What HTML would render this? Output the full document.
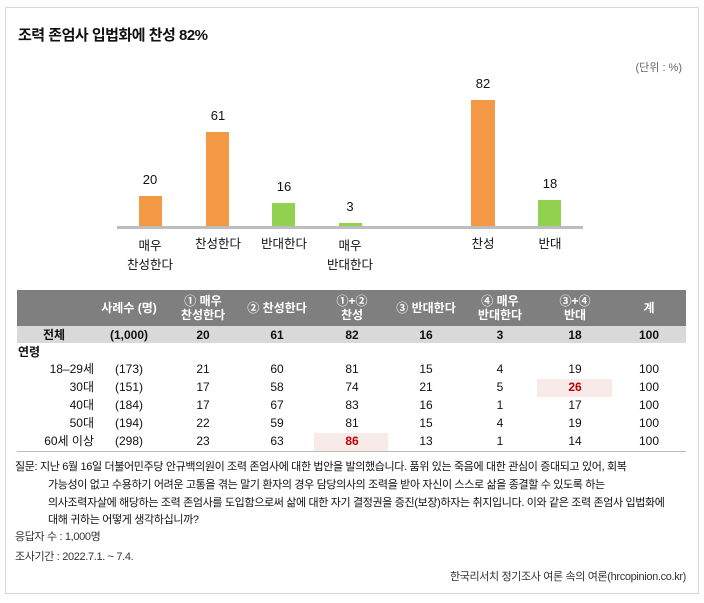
<!DOCTYPE html>
<html><head><meta charset="utf-8"><style>
body{margin:0;width:704px;height:603px;background:#fff;position:relative;font-family:"Liberation Sans","Noto Sans CJK KR",sans-serif;color:#111;overflow:hidden}
.a{position:absolute;white-space:nowrap}
.c{transform:translateX(-50%);text-align:center}
.bar{position:absolute}
.o{background:#f59846}.g{background:#92d050}
.t{font-size:12.5px;line-height:14px}
</style></head><body>
<div class="a" style="left:5px;top:7px;width:692px;height:585px;border:1px solid #d8d8d8"></div>
<div class="a" style="left:18px;top:24px;font-size:15px;font-weight:bold;letter-spacing:-0.5px">조력 존엄사 입법화에 찬성 82%</div>
<div class="a" style="right:22px;top:59px;font-size:11px;color:#666">(단위 : %)</div>

<div class="bar" style="left:117px;top:226px;width:466px;height:3px;background:#bdbdbd"></div>
<div class="bar o" style="left:139px;top:196px;width:23px;height:30px"></div>
<div class="bar o" style="left:206px;top:132px;width:23px;height:94px"></div>
<div class="bar g" style="left:272px;top:203px;width:23px;height:23px"></div>
<div class="bar g" style="left:339px;top:223px;width:23px;height:3px"></div>
<div class="bar o" style="left:471px;top:100px;width:24px;height:126px"></div>
<div class="bar g" style="left:538px;top:200px;width:23px;height:26px"></div>
<div class="a c t" style="left:150px;top:173px;font-size:13px">20</div>
<div class="a c t" style="left:218px;top:109px;font-size:13px">61</div>
<div class="a c t" style="left:284px;top:180px;font-size:13px">16</div>
<div class="a c t" style="left:350px;top:200px;font-size:13px">3</div>
<div class="a c t" style="left:483px;top:77px;font-size:13px">82</div>
<div class="a c t" style="left:550px;top:177px;font-size:13px">18</div>
<div class="a c t" style="left:150px;top:237px;line-height:19px">매우<br>찬성한다</div>
<div class="a c t" style="left:218px;top:237px">찬성한다</div>
<div class="a c t" style="left:284px;top:237px">반대한다</div>
<div class="a c t" style="left:350px;top:237px;line-height:19px">매우<br>반대한다</div>
<div class="a c t" style="left:483px;top:237px">찬성</div>
<div class="a c t" style="left:550px;top:237px">반대</div>

<div class="a" style="left:17px;top:290px;width:669px;height:36px;background:#7f7f7f"></div>
<div class="a" style="left:17px;top:326px;width:669px;height:17px;background:#d9d9d9"></div>
<div class="a" style="left:537px;top:379px;width:75px;height:18px;background:#f9eaea"></div>
<div class="a" style="left:314px;top:433px;width:74px;height:18px;background:#f9eaea"></div>
<div class="a" style="left:17px;top:451px;width:669px;height:1px;background:#bbb"></div>

<div style="color:#fff;font-size:12px;line-height:14px;font-weight:bold">
<div class="a c" style="left:129px;top:301px">사례수 (명)</div>
<div class="a c" style="left:203px;top:294px">① 매우<br>찬성한다</div>
<div class="a c" style="left:277px;top:301px">② 찬성한다</div>
<div class="a c" style="left:352px;top:294px">①+②<br>찬성</div>
<div class="a c" style="left:426px;top:301px">③ 반대한다</div>
<div class="a c" style="left:500px;top:294px">④ 매우<br>반대한다</div>
<div class="a c" style="left:575px;top:294px">③+④<br>반대</div>
<div class="a c" style="left:649px;top:301px">계</div>
</div>
<div id="tb" style="font-size:12px;line-height:14px"></div>
<script>
var cols=[129,203,277,352,426,500,575,649];
var rows=[["전체",328,["(1,000)","20","61","82","16","3","18","100"]],
["18–29세",362,["(173)","21","60","81","15","4","19","100"]],
["30대",380,["(151)","17","58","74","21","5","26","100"]],
["40대",398,["(184)","17","67","83","16","1","17","100"]],
["50대",416,["(194)","22","59","81","15","4","19","100"]],
["60세 이상",434,["(298)","23","63","86","13","1","14","100"]]];
var h="";
rows.forEach(function(r,i){
 if(i==0)h+='<div class="a c" style="left:54px;top:'+r[1]+'px;font-weight:bold">'+r[0]+'</div>';
 else h+='<div class="a" style="right:610px;top:'+r[1]+'px">'+r[0]+'</div>';
 r[2].forEach(function(v,j){var red=(i==2&&j==6)||(i==5&&j==3);
 h+='<div class="a c" style="left:'+cols[j]+'px;top:'+r[1]+'px;'+(red?'color:#c00000;font-weight:bold':(i==0?'font-weight:bold':''))+'">'+v+'</div>';});
});
h+='<div class="a" style="left:18px;top:345px;font-weight:bold">연령</div>';
document.getElementById("tb").innerHTML=h;
</script>
<div style="font-size:11px;line-height:14px;letter-spacing:-0.35px">
<div class="a" style="left:15px;top:460px">질문:</div>
<div class="a" style="left:40px;top:460px">지난 6월 16일 더불어민주당 안규백의원이 조력 존엄사에 대한 법안을 발의했습니다. 품위 있는 죽음에 대한 관심이 증대되고 있어, 회복</div>
<div class="a" style="left:48px;top:478px">가능성이 없고 수용하기 어려운 고통을 겪는 말기 환자의 경우 담당의사의 조력을 받아 자신이 스스로 삶을 종결할 수 있도록 하는</div>
<div class="a" style="left:48px;top:496px">의사조력자살에 해당하는 조력 존엄사를 도입함으로써 삶에 대한 자기 결정권을 증진(보장)하자는 취지입니다. 이와 같은 조력 존엄사 입법화에</div>
<div class="a" style="left:48px;top:513px">대해 귀하는 어떻게 생각하십니까?</div>
<div class="a" style="left:15px;top:530px;color:#333">응답자 수 : 1,000명</div>
<div class="a" style="left:15px;top:550px;color:#333">조사기간 : 2022.7.1. ~ 7.4.</div>
<div class="a" style="right:18px;top:570px;color:#333">한국리서치 정기조사 여론 속의 여론(hrcopinion.co.kr)</div>
</div>
</body></html>
